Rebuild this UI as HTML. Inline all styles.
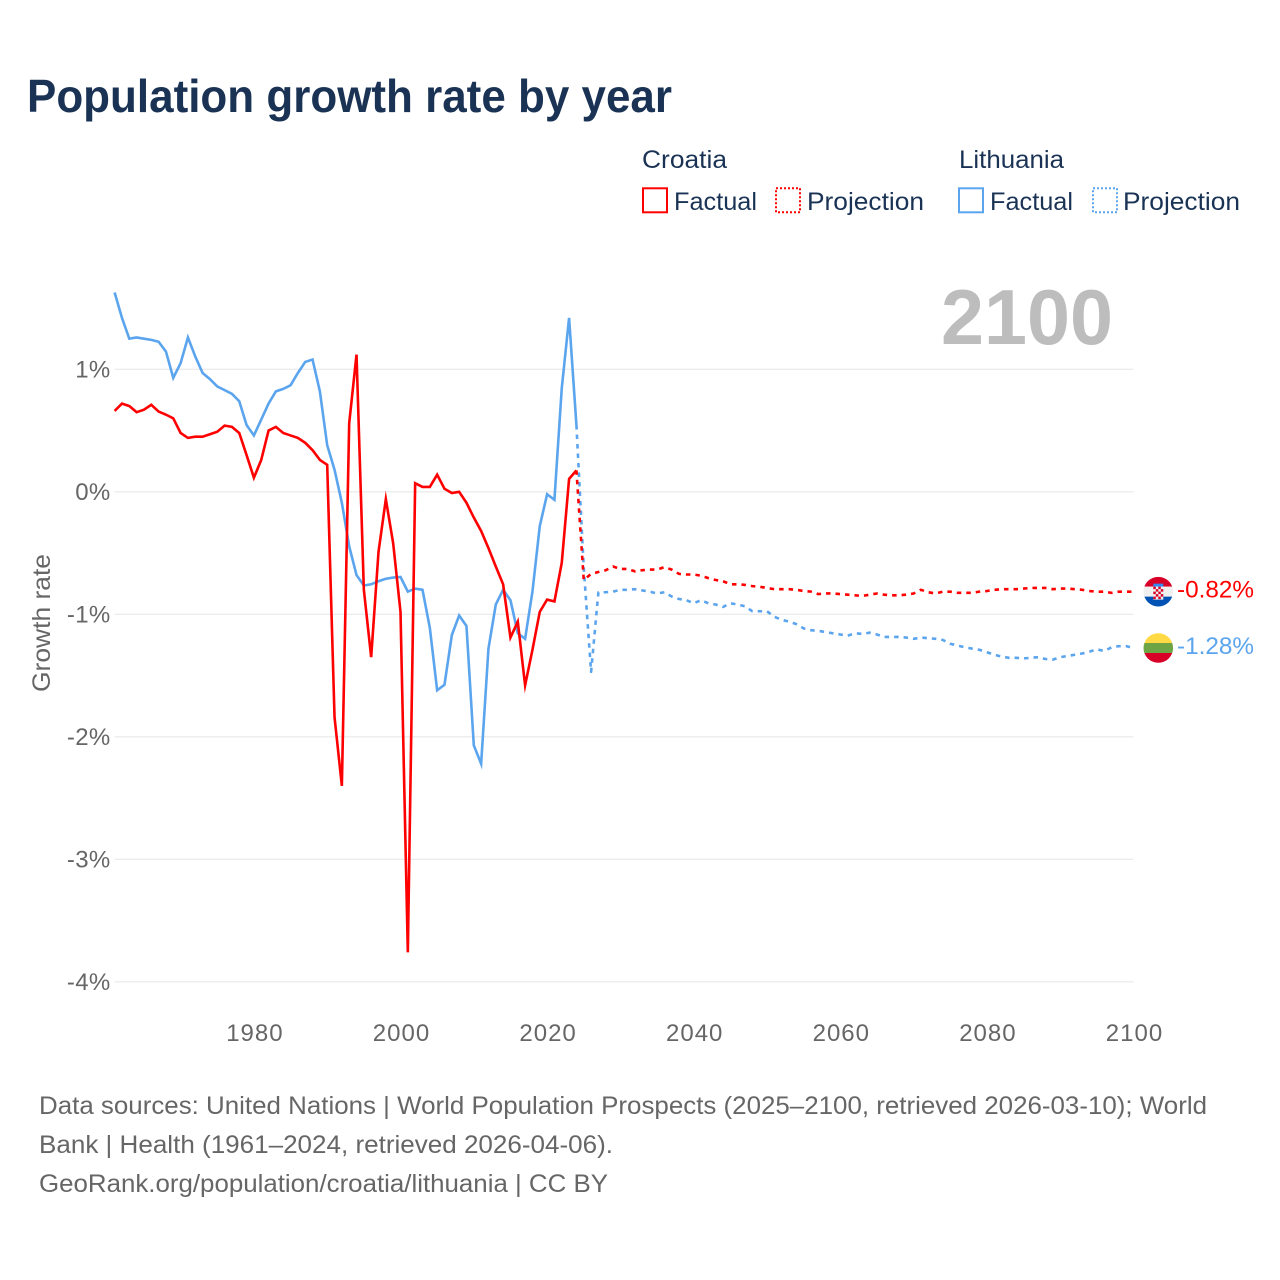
<!DOCTYPE html>
<html lang="en">
<head>
<meta charset="utf-8">
<title>Population growth rate by year</title>
<style>
html,body{margin:0;padding:0;background:#fff;width:1280px;height:1280px;overflow:hidden}
svg{display:block}
text{font-family:"Liberation Sans",sans-serif}
</style>
</head>
<body>
<svg id="chart" xmlns="http://www.w3.org/2000/svg" width="1280" height="1280" viewBox="0 0 1280 1280">
  <rect x="0" y="0" width="1280" height="1280" fill="#ffffff"/>
  <text x="27" y="112" font-size="46" font-weight="700" fill="#1a3355" textLength="645" lengthAdjust="spacingAndGlyphs">Population growth rate by year</text>

  <g font-size="25" fill="#1a3355">
    <text x="642" y="168" textLength="85" lengthAdjust="spacingAndGlyphs">Croatia</text>
    <text x="959" y="168" textLength="105" lengthAdjust="spacingAndGlyphs">Lithuania</text>
    <g>
      <rect x="643" y="188.3" width="24" height="24" fill="none" stroke="#ff0000" stroke-width="2"/>
      <text x="674" y="210" textLength="83" lengthAdjust="spacingAndGlyphs">Factual</text>
    </g>
    <g>
      <rect x="776" y="188.3" width="24" height="24" fill="none" stroke="#ff0000" stroke-width="2" stroke-dasharray="2 2"/>
      <text x="807" y="210" textLength="117" lengthAdjust="spacingAndGlyphs">Projection</text>
    </g>
    <g>
      <rect x="959" y="188.3" width="24" height="24" fill="none" stroke="#5ba4ee" stroke-width="2"/>
      <text x="990" y="210" textLength="83" lengthAdjust="spacingAndGlyphs">Factual</text>
    </g>
    <g>
      <rect x="1093" y="188.3" width="24" height="24" fill="none" stroke="#5ba4ee" stroke-width="2" stroke-dasharray="2 2"/>
      <text x="1123" y="210" textLength="117" lengthAdjust="spacingAndGlyphs">Projection</text>
    </g>
  </g>

  <text x="941" y="344" font-size="78" font-weight="700" fill="#bdbdbd" textLength="172" lengthAdjust="spacingAndGlyphs">2100</text>

  <g id="grid"></g>
  <g id="yTicks" font-size="24" fill="#666666" text-anchor="end"></g>
  <g id="xTicks" font-size="24" fill="#666666" text-anchor="middle"></g>
  <text transform="translate(50,692) rotate(-90)" font-size="25" fill="#666666" textLength="138" lengthAdjust="spacingAndGlyphs">Growth rate</text>
  <g id="series"></g>

  <defs>
    <clipPath id="flagClip"><circle cx="0" cy="0" r="14.8"/></clipPath>
  </defs>
  <g id="flagCroatia">
    <g clip-path="url(#flagClip)">
      <rect x="-15" y="-15" width="30" height="10" fill="#d80027"/>
      <rect x="-15" y="-5" width="30" height="10" fill="#f0f0f0"/>
      <rect x="-15" y="5" width="30" height="10" fill="#0052b4"/>
      <rect x="-5" y="-8" width="10" height="3" fill="#338af3"/>
      <rect x="-5" y="-5" width="10" height="13" fill="#f0f0f0"/>
      <path d="M-5-5h2.5v2.5h-2.5zM0-5h2.5v2.5h-2.5zM-2.5-2.5h2.500v2.500h-2.500zM2.500-2.500h2.500v2.500h-2.500zM-5 0h2.500v2.500h-2.500zM0 0h2.500v2.500h-2.500zM-2.500 2.500h2.500v2.500h-2.500zM2.500 2.500h2.500v2.500h-2.500zM-5 5h2.500v2.500h-2.500zM0 5h2.500v2.500h-2.500z" fill="#d80027"/>
    </g>
  </g>
  <g id="flagLithuania">
    <g clip-path="url(#flagClip)">
      <rect x="-15" y="-15" width="30" height="10" fill="#ffda44"/>
      <rect x="-15" y="-5" width="30" height="10" fill="#6da544"/>
      <rect x="-15" y="5" width="30" height="10" fill="#d80027"/>
    </g>
  </g>
  <g id="endLabels" font-size="24"></g>

  <g font-size="25" fill="#666666">
    <text x="39" y="1114" textLength="1168" lengthAdjust="spacingAndGlyphs">Data sources: United Nations | World Population Prospects (2025–2100, retrieved 2026-03-10); World</text>
    <text x="39" y="1153" textLength="574" lengthAdjust="spacingAndGlyphs">Bank | Health (1961–2024, retrieved 2026-04-06).</text>
    <text x="39" y="1192" textLength="569" lengthAdjust="spacingAndGlyphs">GeoRank.org/population/croatia/lithuania | CC BY</text>
  </g>
</svg>
<script>
const factualStartYear = 1961;
const projectionStartYear = 2025;
const xTickYears = [1980, 2000, 2020, 2040, 2060, 2080, 2100];
const yTickValues = [1, 0, -1, -2, -3, -4];
const yTickLabels = ["1%", "0%", "-1%", "-2%", "-3%", "-4%"];
const endValueLabels = ["-0.82%", "-1.28%"];

const croatiaFactual = [
  0.66,0.72,0.70,0.65,0.67,0.71,0.655,0.63,0.60,0.48,
  0.44,0.45,0.45,0.47,0.49,0.54,0.53,0.48,0.30,0.115,
  0.26,0.50,0.53,0.48,0.46,0.44,0.40,0.34,0.26,0.22,
  -1.84,-2.40,0.56,1.12,-0.80,-1.35,-0.49,-0.06,-0.42,-0.98,
  -3.76,0.07,0.04,0.04,0.14,0.025,-0.01,0.00,-0.09,-0.21,
  -0.32,-0.46,-0.61,-0.755,-1.19,-1.06,-1.58,-1.29,-0.98,-0.88,
  -0.895,-0.58,0.105,0.175
];
const croatiaProjection = [
  -0.72,-0.67,-0.655,-0.64,-0.61,-0.63,-0.63,-0.65,-0.64,-0.635,
  -0.635,-0.615,-0.635,-0.67,-0.675,-0.675,-0.685,-0.705,-0.72,-0.73,
  -0.755,-0.755,-0.76,-0.77,-0.775,-0.785,-0.795,-0.795,-0.795,-0.80,
  -0.81,-0.815,-0.835,-0.83,-0.83,-0.835,-0.84,-0.845,-0.85,-0.84,
  -0.83,-0.84,-0.845,-0.845,-0.84,-0.83,-0.80,-0.82,-0.83,-0.815,
  -0.815,-0.825,-0.825,-0.825,-0.815,-0.81,-0.80,-0.795,-0.795,-0.795,
  -0.79,-0.785,-0.785,-0.785,-0.795,-0.79,-0.79,-0.795,-0.80,-0.81,
  -0.815,-0.815,-0.825,-0.815,-0.815,-0.815
];
const lithuaniaFactual = [
  1.627,1.42,1.25,1.26,1.25,1.24,1.225,1.145,0.93,1.05,
  1.26,1.105,0.97,0.92,0.86,0.83,0.80,0.74,0.545,0.46,
  0.59,0.72,0.82,0.84,0.87,0.97,1.06,1.08,0.82,0.38,
  0.18,-0.09,-0.445,-0.68,-0.765,-0.755,-0.73,-0.71,-0.70,-0.695,
  -0.815,-0.79,-0.80,-1.11,-1.62,-1.575,-1.17,-1.01,-1.095,-2.07,
  -2.22,-1.28,-0.92,-0.80,-0.885,-1.155,-1.20,-0.815,-0.28,-0.02,
  -0.065,0.845,1.42,0.545
];
const lithuaniaProjection = [
  -0.62,-1.47,-0.82,-0.82,-0.815,-0.80,-0.80,-0.795,-0.805,-0.815,
  -0.83,-0.82,-0.855,-0.875,-0.885,-0.91,-0.885,-0.91,-0.92,-0.94,
  -0.91,-0.92,-0.935,-0.975,-0.975,-0.975,-1.02,-1.045,-1.06,-1.08,
  -1.115,-1.13,-1.135,-1.145,-1.155,-1.165,-1.175,-1.155,-1.16,-1.15,
  -1.165,-1.185,-1.185,-1.185,-1.19,-1.20,-1.19,-1.195,-1.20,-1.21,
  -1.24,-1.255,-1.27,-1.28,-1.29,-1.31,-1.33,-1.345,-1.355,-1.355,
  -1.36,-1.355,-1.35,-1.365,-1.37,-1.35,-1.34,-1.33,-1.32,-1.305,
  -1.285,-1.30,-1.27,-1.26,-1.26,-1.275
];

const NS = "http://www.w3.org/2000/svg";
const xScale = year => 1133.5 - (2100 - year) * 7.33;
const yScale = value => 491.8 - value * 122.5;

function svgEl(tag, parent) {
  const el = document.createElementNS(NS, tag);
  parent.appendChild(el);
  return el;
}
function linePath(startYear, values, prefixYear, prefixValue) {
  const pts = values.map((v, i) => xScale(startYear + i).toFixed(2) + "," + yScale(v).toFixed(2));
  if (prefixYear !== undefined) pts.unshift(xScale(prefixYear).toFixed(2) + "," + yScale(prefixValue).toFixed(2));
  return "M" + pts.join("L");
}

const gridGroup = document.getElementById("grid");
const yTickGroup = document.getElementById("yTicks");
yTickValues.forEach((value, i) => {
  const line = svgEl("line", gridGroup);
  
  
  line.setAttribute("x1", xScale(factualStartYear));
  line.setAttribute("x2", xScale(2100));
  line.setAttribute("y1", yScale(value));
  line.setAttribute("y2", yScale(value));
  line.setAttribute("stroke", "#ececec");
  line.setAttribute("stroke-width", "1.3");
  const label = svgEl("text", yTickGroup);
  
  
  label.setAttribute("x", 110.5);
  label.setAttribute("y", yScale(value) + 8);
  label.setAttribute("letter-spacing", "0.3");
  label.textContent = yTickLabels[i];
});

const xTickGroup = document.getElementById("xTicks");
xTickYears.forEach(year => {
  const label = svgEl("text", xTickGroup);
  
  
  label.setAttribute("x", xScale(year) + 1);
  label.setAttribute("y", 1041);
  label.setAttribute("letter-spacing", "1");
  label.textContent = year;
});

const seriesGroup = document.getElementById("series");
function drawProjection(values, factual, color, name) {
  const path = svgEl("path", seriesGroup);
  
  
  path.setAttribute("d", linePath(projectionStartYear, values, projectionStartYear - 1, factual[factual.length - 1]));
  path.setAttribute("fill", "none");
  path.setAttribute("stroke", color);
  path.setAttribute("stroke-width", "2.6");
  path.setAttribute("stroke-dasharray", "4.5 5");
  path.setAttribute("stroke-linejoin", "round");
}
function drawFactual(values, color, name) {
  const path = svgEl("path", seriesGroup);
  
  
  path.setAttribute("d", linePath(factualStartYear, values));
  path.setAttribute("fill", "none");
  path.setAttribute("stroke", color);
  path.setAttribute("stroke-width", "2.6");
  path.setAttribute("stroke-linejoin", "miter");
  path.setAttribute("stroke-miterlimit", "10");
}
drawProjection(lithuaniaProjection, lithuaniaFactual, "#5ba4ee", "lithuania-projection-line");
drawFactual(lithuaniaFactual, "#5ba4ee", "lithuania-factual-line");
drawProjection(croatiaProjection, croatiaFactual, "#ff0000", "croatia-projection-line");
drawFactual(croatiaFactual, "#ff0000", "croatia-factual-line");

const croatiaEndValue = croatiaProjection[croatiaProjection.length - 1];
const lithuaniaEndValue = lithuaniaProjection[lithuaniaProjection.length - 1];
document.getElementById("flagCroatia").setAttribute("transform", "translate(1158.3," + yScale(croatiaEndValue).toFixed(2) + ")");
document.getElementById("flagLithuania").setAttribute("transform", "translate(1158.3," + yScale(lithuaniaEndValue).toFixed(2) + ")");

const endGroup = document.getElementById("endLabels");
const croatiaEndLabel = svgEl("text", endGroup);


croatiaEndLabel.setAttribute("x", 1177);
croatiaEndLabel.setAttribute("y", yScale(croatiaEndValue) + 6);
croatiaEndLabel.setAttribute("fill", "#ff0000");
croatiaEndLabel.setAttribute("textLength", "77");
croatiaEndLabel.setAttribute("lengthAdjust", "spacingAndGlyphs");
croatiaEndLabel.textContent = endValueLabels[0];

const lithuaniaEndLabel = svgEl("text", endGroup);


lithuaniaEndLabel.setAttribute("x", 1177);
lithuaniaEndLabel.setAttribute("y", yScale(lithuaniaEndValue) + 6);
lithuaniaEndLabel.setAttribute("fill", "#5ba4ee");
lithuaniaEndLabel.setAttribute("textLength", "77");
lithuaniaEndLabel.setAttribute("lengthAdjust", "spacingAndGlyphs");
lithuaniaEndLabel.textContent = endValueLabels[1];
</script>
</body>
</html>
